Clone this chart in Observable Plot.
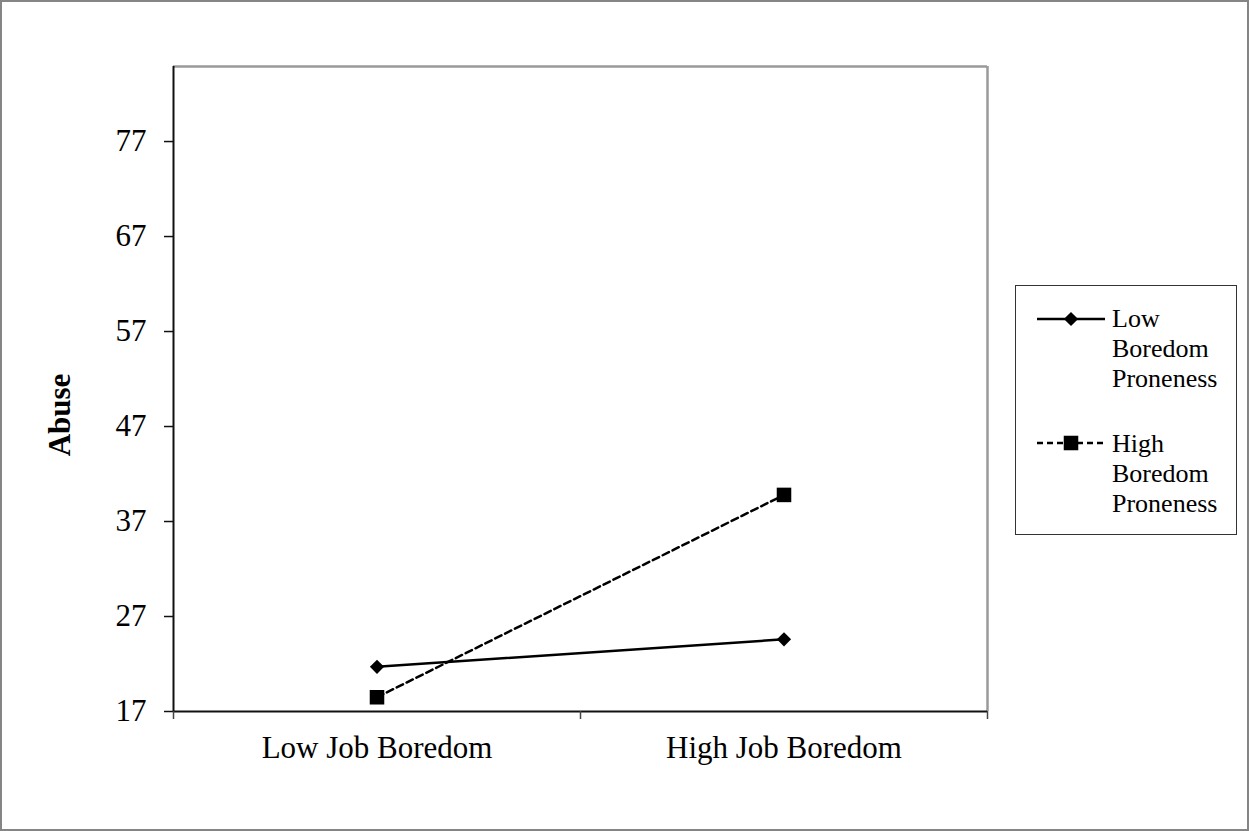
<!DOCTYPE html>
<html>
<head>
<meta charset="utf-8">
<script src="https://cdn.jsdelivr.net/npm/d3@7"></script>
<script src="https://cdn.jsdelivr.net/npm/@observablehq/plot@0.6"></script>
<style>
  html, body { margin: 0; padding: 0; background: #fff; }
  #wrap { position: relative; width: 1249px; height: 831px; background: #fff; overflow: hidden; font-family: "Liberation Serif", "Times New Roman", serif; color: #000; }
  #wrap svg.plot { position: absolute; left: 0; top: 0; }
  #border { position: absolute; left: 0; top: 0; width: 1249px; height: 831px; box-sizing: border-box; border: 2px solid #858585; pointer-events: none; }
  .abs { position: absolute; }
  #ylabel { position: absolute; left: 60px; top: 415px; transform: translate(-50%, -50%) rotate(-90deg); font-weight: bold; font-size: 31px; white-space: nowrap; }
  #legendBox { position: absolute; left: 1015px; top: 285px; width: 222px; height: 250px; box-sizing: border-box; border: 1.5px solid #333; }
  .legText { position: absolute; font-size: 26px; line-height: 30px; white-space: nowrap; }
</style>
</head>
<body>
<div id="wrap"></div>
<script>
// ---- data ----
const categories = ["Low Job Boredom", "High Job Boredom"];
const seriesNames = ["Low Boredom Proneness", "High Boredom Proneness"];
const lowProneness = [21.7, 24.6];
const highProneness = [18.5, 39.8];
const yTicks = [17, 27, 37, 47, 57, 67, 77];
const yDomain = [17, 84.9];

const seriesValues = [lowProneness, highProneness];
const rows = [];
seriesNames.forEach((s, si) => {
  categories.forEach((c, i) => rows.push({series: s, cat: c, pos: i + 0.5, value: seriesValues[si][i]}));
});
const lowRows = rows.filter(d => d.series === seriesNames[0]);
const highRows = rows.filter(d => d.series === seriesNames[1]);
const catPos = categories.map((c, i) => i + 0.5);
const boundaries = d3.range(categories.length + 1);

const plot = Plot.plot({
  width: 1249,
  height: 831,
  marginLeft: 173,
  marginRight: 262,
  marginTop: 66,
  marginBottom: 120,
  style: {fontFamily: "Liberation Serif, Times New Roman, serif", fontSize: "31px", color: "#000", background: "transparent"},
  x: {domain: [0, categories.length]},
  y: {domain: yDomain},
  marks: [
    Plot.ruleY([yDomain[1]], {stroke: "#9a9a9a", strokeWidth: 2.5}),
    Plot.ruleX([categories.length], {stroke: "#9a9a9a", strokeWidth: 2.5}),
    Plot.ruleX([0], {stroke: "#111", strokeWidth: 2}),
    Plot.ruleY([yDomain[0]], {stroke: "#111", strokeWidth: 2}),
    Plot.axisY({ticks: yTicks, tickSize: 9, tickPadding: 18, label: null, tickFormat: d => String(d), stroke: "#111", strokeWidth: 1.5}),
    Plot.axisX({ticks: boundaries, tickSize: 8, tickFormat: () => "", label: null, stroke: "#444", strokeWidth: 1.5}),
    Plot.axisX({ticks: catPos, tickSize: 0, tickPadding: 24, tickFormat: d => categories[Math.floor(d)], label: null}),
    Plot.line(lowRows, {x: "pos", y: "value", stroke: "#000", strokeWidth: 2.5}),
    Plot.line(highRows, {x: "pos", y: "value", stroke: "#000", strokeWidth: 2.5, strokeDasharray: "7,4"}),
    Plot.dot(lowRows, {x: "pos", y: "value", symbol: "diamond2", r: 6.4, fill: "#000", stroke: "none"}),
    Plot.dot(highRows, {x: "pos", y: "value", symbol: "square", r: 8.2, fill: "#000", stroke: "none"})
  ]
});
plot.classList.add("plot");
const wrap = document.getElementById("wrap");
wrap.appendChild(plot);

// y label
const yl = document.createElement("div");
yl.id = "ylabel";
yl.textContent = "Abuse";
wrap.appendChild(yl);

// legend
const lb = document.createElement("div");
lb.id = "legendBox";
wrap.appendChild(lb);

const ns = "http://www.w3.org/2000/svg";
function swatch(top, dashed, symbol) {
  const svg = document.createElementNS(ns, "svg");
  svg.setAttribute("width", 70);
  svg.setAttribute("height", 20);
  svg.style.position = "absolute";
  svg.style.left = "1036px";
  svg.style.top = (top - 10) + "px";
  const line = document.createElementNS(ns, "line");
  line.setAttribute("x1", 1); line.setAttribute("x2", 69);
  line.setAttribute("y1", 10); line.setAttribute("y2", 10);
  line.setAttribute("stroke", "#000");
  line.setAttribute("stroke-width", 2.5);
  if (dashed) line.setAttribute("stroke-dasharray", "6,4");
  svg.appendChild(line);
  const p = document.createElementNS(ns, "path");
  const sym = d3.symbol(symbol === "square" ? d3.symbolSquare : d3.symbolDiamond2, symbol === "square" ? 211 : 129);
  p.setAttribute("d", sym());
  p.setAttribute("transform", "translate(35,10)");
  p.setAttribute("fill", "#000");
  svg.appendChild(p);
  wrap.appendChild(svg);
}
function legText(top, name) {
  const d = document.createElement("div");
  d.className = "legText";
  d.style.left = "1112px";
  d.style.top = top + "px";
  d.innerHTML = name.split(" ").join("<br>");
  wrap.appendChild(d);
}
swatch(319, false, "diamond");
legText(304, seriesNames[0]);
swatch(443, true, "square");
legText(429, seriesNames[1]);

const b = document.createElement("div");
b.id = "border";
wrap.appendChild(b);
</script>
</body>
</html>
